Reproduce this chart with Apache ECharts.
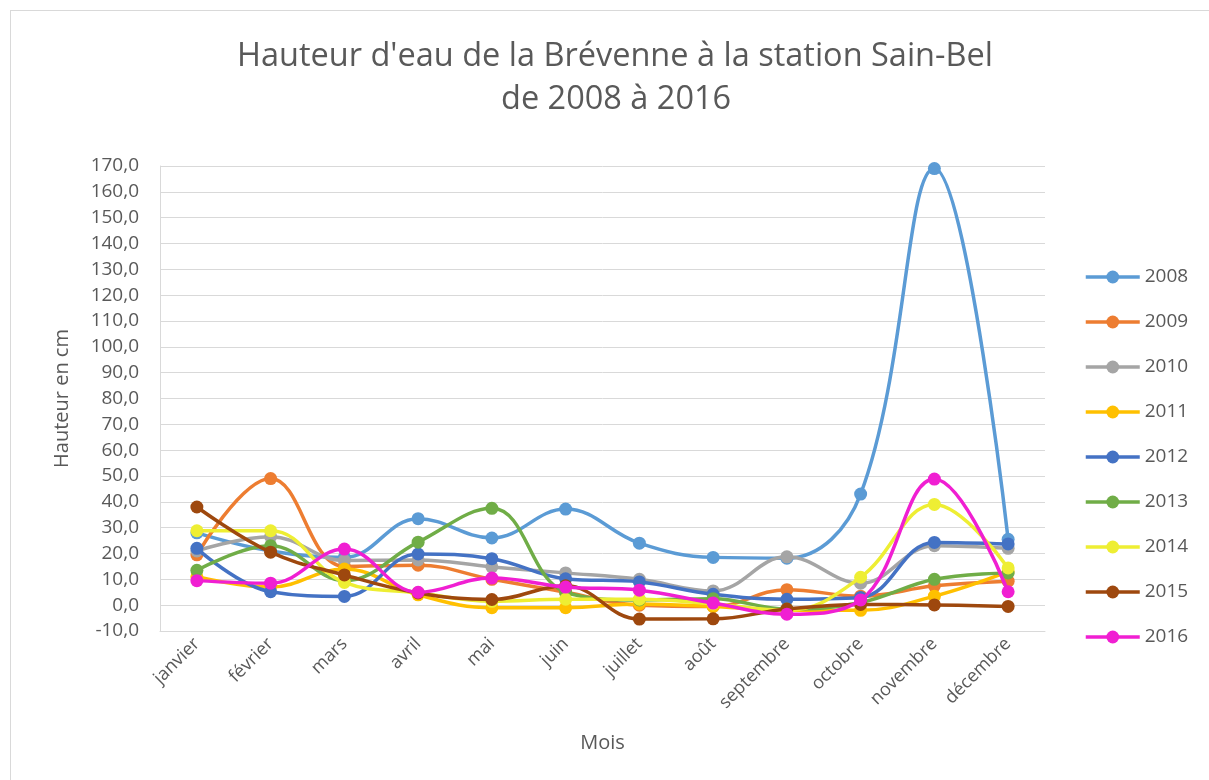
<!DOCTYPE html>
<html>
<head>
<meta charset="utf-8">
<script src="https://cdn.jsdelivr.net/npm/echarts@6/dist/echarts.min.js"></script>
<style>
html,body{margin:0;padding:0;background:#fff;}
#frame{position:absolute;left:10px;top:10px;width:1220px;height:800px;border:1px solid #D9D9D9;box-sizing:border-box;}
#chart{position:absolute;left:0;top:0;width:1209px;height:780px;}
</style>
</head>
<body>
<div id="frame"></div>
<div id="chart"></div>
<script>
const months = ['janvier','février','mars','avril','mai','juin','juillet','août','septembre','octobre','novembre','décembre'];
const years = ['2008','2009','2010','2011','2012','2013','2014','2015','2016'];
const yTicks = { min: -10, max: 170, interval: 10 };
const titleLines = ["Hauteur d'eau de la Brévenne à la station Sain-Bel", "de 2008 à 2016"];

const s2008 = [28, 21, 18.5, 33.5, 26, 37.2, 24, 18.5, 18.2, 43, 169, 25.5];
const s2009 = [19.5, 49, 15, 15.5, 10, 5, 0, -0.5, 6, 3.5, 7.5, 9.3];
const s2010 = [21, 26.5, 17.3, 17.5, 14.8, 12.5, 10, 5.5, 18.7, 8.5, 23, 22];
const s2011 = [11, 7, 14, 4, -1, -1, 0.5, -0.5, -2, -2, 3.5, 13];
const s2012 = [22, 5.2, 3.4, 19.8, 18, 10.2, 9, 4.2, 2.3, 3, 24.3, 23.7];
const s2013 = [13.5, 23, 9.5, 24.4, 37.5, 5, 2, 2.5, -1.5, 1, 10, 12.5];
const s2014 = [28.8, 28.8, 8.8, 4.8, 1.5, 2.3, 2.3, 0.5, -2, 10.8, 39, 14.4];
const s2015 = [38, 20.5, 11.7, 4.7, 2.2, 7.5, -5.4, -5.3, -1.5, 0.3, 0.1, -0.5];
const s2016 = [9.5, 8.5, 21.7, 5, 10.5, 7, 5.8, 0.8, -3.5, 2, 48.8, 5.2];

const seriesData = [s2008, s2009, s2010, s2011, s2012, s2013, s2014, s2015, s2016];
const colors = ['#5B9BD5','#ED7D31','#A5A5A5','#FFC000','#4472C4','#70AD47','#EEEE33','#9E480E','#F01FD2'];

const FONT = '"Open Sans", sans-serif';
const titleStyle = { fontFamily: FONT, fontSize: 32.5, fontWeight: 'normal', color: '#595959' };
const chart = echarts.init(document.getElementById('chart'));
chart.setOption({
  animation: false,
  color: colors,
  title: [
    { text: titleLines[0], left: 232, top: 35, textStyle: titleStyle },
    { text: titleLines[1], left: 496, top: 78, textStyle: titleStyle }
  ],
  legend: {
    orient: 'vertical',
    left: 1079,
    top: 262,
    itemWidth: 54,
    itemHeight: 16,
    itemGap: 25,
    data: years,
    lineStyle: { width: 3.5 },
    textStyle: { fontFamily: FONT, fontSize: 19, color: '#595959', lineHeight: 20 }
  },
  grid: { left: 160, right: 164, top: 166, bottom: 149 },
  xAxis: {
    type: 'category',
    data: months,
    boundaryGap: true,
    name: 'Mois',
    nameLocation: 'middle',
    nameGap: 102,
    nameTextStyle: { fontFamily: FONT, fontSize: 20, color: '#595959' },
    axisLine: { onZero: false, lineStyle: { color: '#D9D9D9', width: 1 } },
    axisTick: { show: false },
    axisLabel: { rotate: 45, fontFamily: FONT, fontSize: 18, color: '#595959', margin: 10, interval: 0 }
  },
  yAxis: {
    type: 'value',
    min: yTicks.min,
    max: yTicks.max,
    interval: yTicks.interval,
    name: 'Hauteur en cm',
    nameLocation: 'middle',
    nameGap: 88,
    nameRotate: 90,
    nameTextStyle: { fontFamily: FONT, fontSize: 20, color: '#595959' },
    axisLine: { show: true, lineStyle: { color: '#D9D9D9' } },
    axisTick: { show: false },
    splitLine: { lineStyle: { color: '#D9D9D9', width: 1 } },
    axisLabel: {
      fontFamily: FONT, fontSize: 19, color: '#595959', margin: 21,
      formatter: v => v.toFixed(1).replace('.', ',')
    }
  },
  series: years.map((y, i) => ({
    name: y,
    type: 'line',
    data: seriesData[i],
    smooth: 0.4,
    symbol: 'circle',
    symbolSize: 13,
    lineStyle: { width: 3.5 },
    itemStyle: { color: colors[i] },
    z: 2 + i
  }))
});
</script>
</body>
</html>
